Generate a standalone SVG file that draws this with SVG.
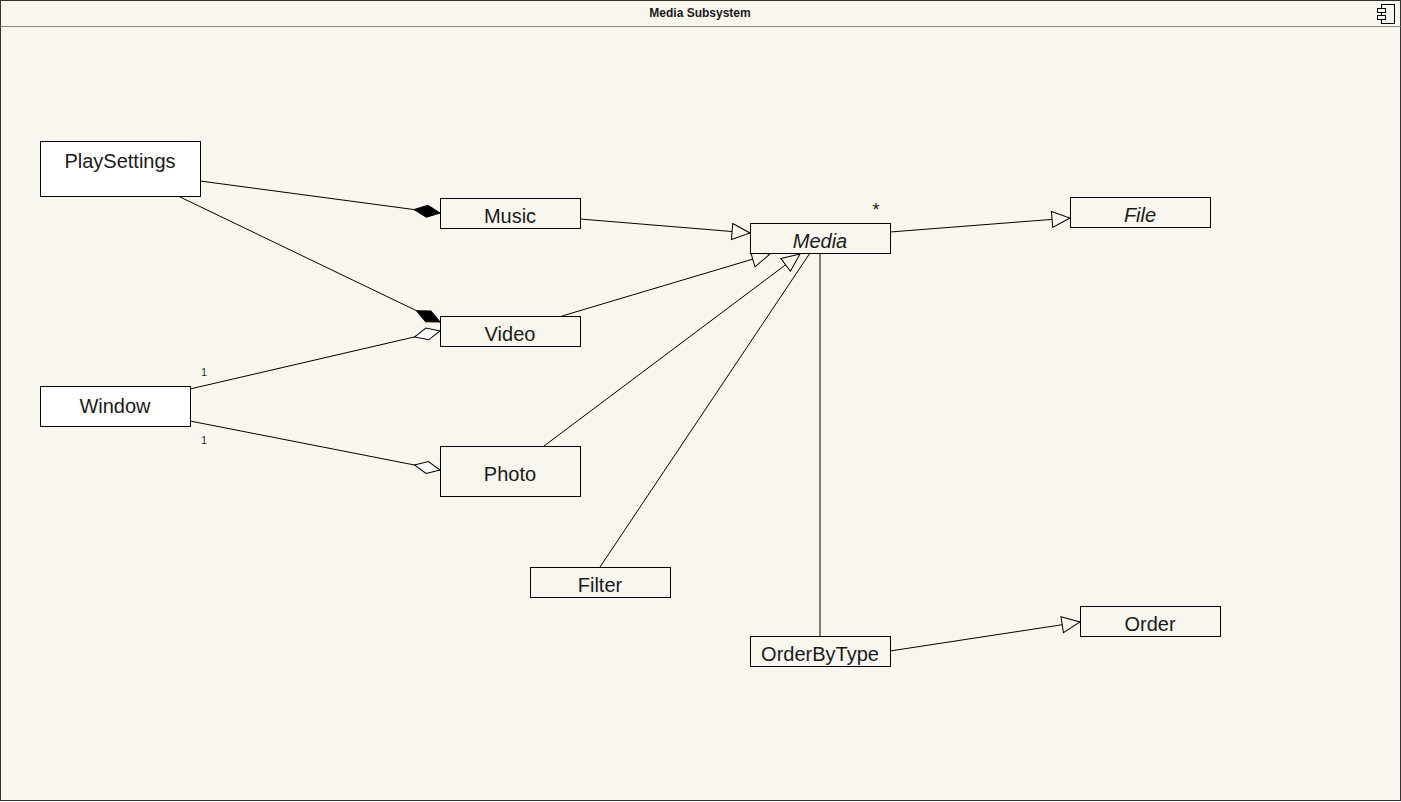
<svg xmlns="http://www.w3.org/2000/svg" width="1401" height="802" viewBox="0 0 1401 802">
<style>
.box{stroke:#000;stroke-width:1}
.w{fill:#fff}
.b{fill:#f8f6ee}
.t{font-family:"Liberation Sans",Arial,sans-serif;font-size:20px;fill:#1a1a1a;text-anchor:middle}
.i{font-style:italic}
.e{stroke:#000;stroke-width:1;fill:none}
.m{font-family:"Liberation Sans",Arial,sans-serif;fill:#1a1a1a;text-anchor:middle}
</style>
<defs>
<marker id="tri" viewBox="0 0 20 18" refX="19" refY="9" markerWidth="20" markerHeight="18" markerUnits="userSpaceOnUse" orient="auto">
<path d="M1,1 L19,9 L1,17 Z" fill="#f8f6ee" stroke="#000" stroke-width="1"/>
</marker>
<marker id="fd" viewBox="0 0 28 14" refX="27" refY="7" markerWidth="28" markerHeight="14" markerUnits="userSpaceOnUse" orient="auto">
<path d="M1,7 L14,1 L27,7 L14,13 Z" fill="#000" stroke="#000" stroke-width="1"/>
</marker>
<marker id="hd" viewBox="0 0 28 14" refX="27" refY="7" markerWidth="28" markerHeight="14" markerUnits="userSpaceOnUse" orient="auto">
<path d="M1,7 L14,1 L27,7 L14,13 Z" fill="#fff" stroke="#000" stroke-width="1"/>
</marker>
</defs>
<g id="frame">
<rect x="0.5" y="0.5" width="1400" height="800" fill="#f8f6ee" stroke="#333" stroke-width="1"/>
<line x1="0.5" y1="26.5" x2="1400.5" y2="26.5" stroke="#888" stroke-width="1"/>
<text x="700" y="17" font-family="'Liberation Sans',Arial,sans-serif" font-size="12" font-weight="bold" fill="#1a1a1a" text-anchor="middle">Media Subsystem</text>
<g fill="#f8f6ee" stroke="#000" stroke-width="1">
<rect x="1381.5" y="4.5" width="13" height="19"/>
<rect x="1377.5" y="8.5" width="8" height="4"/>
<rect x="1377.5" y="15.5" width="8" height="4"/>
</g>
</g>
<g id="connectors">
<line class="e" x1="200" y1="181" x2="440" y2="213" marker-end="url(#fd)"/>
<line class="e" x1="178" y1="196" x2="440" y2="322" marker-end="url(#fd)"/>
<line class="e" x1="190" y1="389" x2="440" y2="331" marker-end="url(#hd)"/>
<line class="e" x1="190" y1="421" x2="440" y2="470" marker-end="url(#hd)"/>
<line class="e" x1="580" y1="219" x2="750" y2="233" marker-end="url(#tri)"/>
<line class="e" x1="562" y1="316" x2="770" y2="254" marker-end="url(#tri)"/>
<line class="e" x1="544" y1="446" x2="800" y2="254" marker-end="url(#tri)"/>
<line class="e" x1="600" y1="567" x2="810" y2="253"/>
<line class="e" x1="820" y1="253" x2="820" y2="636"/>
<line class="e" x1="890" y1="232" x2="1070" y2="218" marker-end="url(#tri)"/>
<line class="e" x1="890" y1="651" x2="1080" y2="622" marker-end="url(#tri)"/>
<text class="m" x="204" y="376" style="font-size:10px">1</text>
<text class="m" x="204" y="444" style="font-size:10px">1</text>
<text class="m" x="876" y="216" style="font-size:18px">*</text>
</g>
<g id="PlaySettings"><rect class="box w" x="40.5" y="141.5" width="160" height="55"/><text class="t" x="120" y="168">PlaySettings</text></g>
<g id="Music"><rect class="box b" x="440.5" y="198.5" width="140" height="30"/><text class="t" x="510" y="223">Music</text></g>
<g id="Video"><rect class="box b" x="440.5" y="316.5" width="140" height="30"/><text class="t" x="510" y="341">Video</text></g>
<g id="Window"><rect class="box w" x="40.5" y="386.5" width="150" height="40"/><text class="t" x="115" y="413">Window</text></g>
<g id="Photo"><rect class="box b" x="440.5" y="446.5" width="140" height="50"/><text class="t" x="510" y="481">Photo</text></g>
<g id="Filter"><rect class="box b" x="530.5" y="567.5" width="140" height="30"/><text class="t" x="600" y="592">Filter</text></g>
<g id="Media"><rect class="box b" x="750.5" y="223.5" width="140" height="30"/><text class="t i" x="820" y="248">Media</text></g>
<g id="File"><rect class="box b" x="1070.5" y="197.5" width="140" height="30"/><text class="t i" x="1140" y="222">File</text></g>
<g id="OrderByType"><rect class="box b" x="750.5" y="636.5" width="140" height="30"/><text class="t" x="820" y="661">OrderByType</text></g>
<g id="Order"><rect class="box b" x="1080.5" y="606.5" width="140" height="30"/><text class="t" x="1150" y="631">Order</text></g>
</svg>
